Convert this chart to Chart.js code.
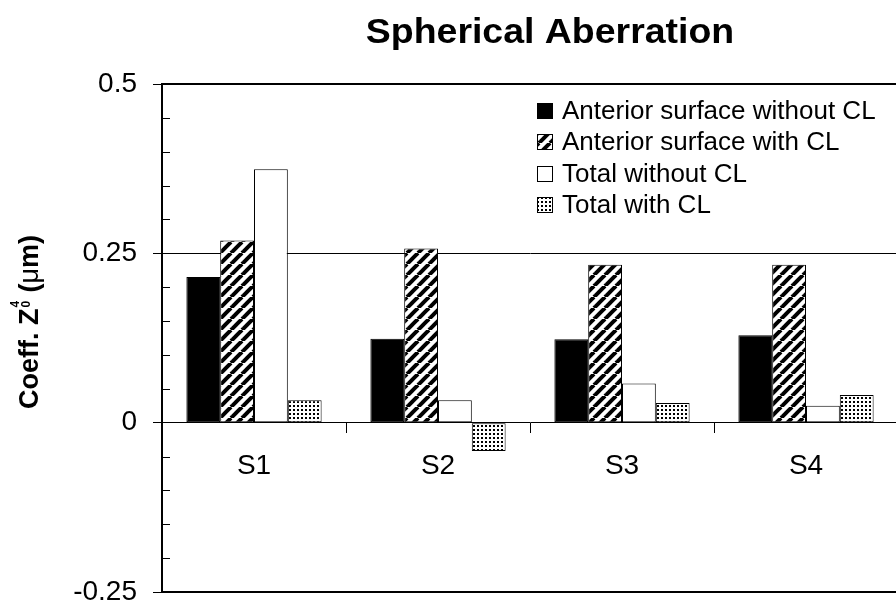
<!DOCTYPE html>
<html>
<head>
<meta charset="utf-8">
<script src="https://cdn.jsdelivr.net/npm/chart.js@4.4.0/dist/chart.umd.min.js"></script>
<style>
  html, body { margin: 0; padding: 0; background: #fff; overflow: hidden; }
  #wrap { width: 900px; height: 607px; }
</style>
</head>
<body>
<div id="wrap"><canvas id="chart" width="900" height="607"></canvas></div>
<script>
const categories = ["S1", "S2", "S3", "S4"];
const seriesLabels = ["Anterior surface without CL", "Anterior surface with CL", "Total without CL", "Total with CL"];
const anteriorWithout = [0.215, 0.124, 0.123, 0.129];
const anteriorWith = [0.269, 0.257, 0.233, 0.233];
const totalWithout = [0.374, 0.033, 0.058, 0.025];
const totalWith = [0.033, -0.042, 0.029, 0.041];
const yTickLabels = [0.5, 0.25, 0, -0.25];
const chartTitle = "Spherical Aberration";

const FONT = "'Liberation Sans', Arial, sans-serif";

const near = (a, b) => Math.abs(a - b) < 1e-6;
const isMajor = (v) => yTickLabels.some((t) => near(t, v));

function makeHatch() {
    const c = document.createElement("canvas");
    c.width = c.height = 11;
    const g = c.getContext("2d");
    g.fillStyle = "#fff";
    g.fillRect(0, 0, 11, 11);
    g.strokeStyle = "#000";
    g.lineWidth = 4;
    [-11, 0, 11].forEach((o) => {
        g.beginPath();
        g.moveTo(o, 11);
        g.lineTo(o + 11, 0);
        g.stroke();
    });
    return g.createPattern(c, "repeat");
}

function makeDots() {
    const c = document.createElement("canvas");
    c.width = c.height = 4;
    const g = c.getContext("2d");
    g.fillStyle = "#fff";
    g.fillRect(0, 0, 4, 4);
    g.fillStyle = "#000";
    g.fillRect(1, 1, 2, 2);
    return g.createPattern(c, "repeat");
}

const fills = ["#000", makeHatch(), "#fff", makeDots()];
const seriesValues = [anteriorWithout, anteriorWith, totalWithout, totalWith];

// plot frame, inner minor ticks, title, y title, legend
const decorations = {
    id: "decorations",
    afterDraw(chart) {
        const ctx = chart.ctx;
        const area = chart.chartArea;
        const yScale = chart.scales.y;
        ctx.save();

        ctx.strokeStyle = "#000";
        ctx.lineWidth = 2;
        ctx.strokeRect(area.left, area.top, area.right - area.left, area.bottom - area.top);

        ctx.lineWidth = 1;
        yScale.ticks.forEach((t) => {
            if (isMajor(t.value)) return;
            const y = Math.round(yScale.getPixelForValue(t.value)) + 0.5;
            ctx.beginPath();
            ctx.moveTo(area.left, y);
            ctx.lineTo(area.left + 8, y);
            ctx.stroke();
        });

        // title
        ctx.save();
        ctx.fillStyle = "#000";
        ctx.font = "bold 35px " + FONT;
        ctx.textAlign = "center";
        ctx.textBaseline = "alphabetic";
        ctx.translate(550, 43);
        ctx.scale(1.07, 1);
        ctx.fillText(chartTitle, 0, 0);
        ctx.restore();

        // y axis title: Coeff. Z (sub 0, sup 4) (µm)
        ctx.save();
        ctx.fillStyle = "#000";
        ctx.textAlign = "left";
        ctx.textBaseline = "alphabetic";
        ctx.translate(38, 322);
        ctx.rotate(-Math.PI / 2);
        const big = "bold 27px " + FONT;
        const small = "bold 12px " + FONT;
        const mu = "27px " + FONT;
        ctx.font = big;
        const w1 = ctx.measureText("Coeff. Z").width;
        const w3 = ctx.measureText(" (").width;
        const w5 = ctx.measureText("m)").width;
        ctx.font = small;
        const w2 = ctx.measureText("0").width;
        ctx.font = mu;
        const w4 = ctx.measureText("\u03bc").width;
        const total = w1 + w2 + 2 + w3 + w4 + w5;
        let x = -total / 2;
        ctx.font = big;
        ctx.fillText("Coeff. Z", x, 0);
        x += w1 + 1;
        ctx.font = small;
        ctx.fillText("0", x, -8);
        ctx.fillText("4", x, -19);
        x += w2 + 1;
        ctx.font = big;
        ctx.fillText(" (", x, 0);
        x += w3;
        ctx.font = mu;
        ctx.fillText("\u03bc", x, 0);
        x += w4;
        ctx.font = big;
        ctx.fillText("m)", x, 0);
        ctx.restore();

        // legend inside the plot
        ctx.font = "26px " + FONT;
        ctx.textBaseline = "middle";
        ctx.textAlign = "left";
        chart.data.datasets.forEach((ds, i) => {
            const y = Math.round(111 + i * 31.4);
            ctx.fillStyle = ds.backgroundColor;
            ctx.fillRect(537, y - 8, 16, 16);
            ctx.strokeStyle = "#000";
            ctx.lineWidth = 1;
            ctx.strokeRect(537.5, y - 7.5, 15, 15);
            ctx.fillStyle = "#000";
            ctx.fillText(ds.label, 562, y + 1);
        });

        ctx.restore();
    }
};

new Chart(document.getElementById("chart"), {
    type: "bar",
    data: {
        labels: categories,
        datasets: seriesValues.map((data, i) => ({
            label: seriesLabels[i],
            data: data,
            backgroundColor: fills[i],
            borderColor: "#000",
            borderWidth: 1,
            borderSkipped: false,
            categoryPercentage: 0.735,
            barPercentage: 1
        }))
    },
    options: {
        responsive: false,
        animation: false,
        devicePixelRatio: 1,
        layout: { padding: { left: 0, top: 84, right: 2, bottom: 15 } },
        plugins: {
            legend: { display: false },
            title: { display: false },
            tooltip: { enabled: false }
        },
        scales: {
            x: {
                position: { y: 0 },
                grid: {
                    offset: true,
                    drawOnChartArea: false,
                    tickLength: 10,
                    color: "#000"
                },
                border: { display: true, color: "#000", width: 1 },
                ticks: {
                    color: "#000",
                    font: { family: FONT, size: 28 },
                    padding: 17
                }
            },
            y: {
                min: -0.25,
                max: 0.5,
                afterFit: (scale) => {
                    scale.width = 162;
                    scale.paddingTop = 0;
                    scale.paddingBottom = 0;
                },
                grid: {
                    color: (c) => (c.tick && near(c.tick.value, 0.25) ? "#000" : "transparent"),
                    tickColor: (c) => (c.tick && isMajor(c.tick.value) ? "#000" : "transparent"),
                    tickLength: 9,
                    lineWidth: 1
                },
                border: { color: "#000", width: 2 },
                ticks: {
                    stepSize: 0.05,
                    autoSkip: false,
                    color: "#000",
                    font: { family: FONT, size: 28 },
                    padding: 16,
                    callback: (v) => (isMajor(v) ? String(Math.round(v * 100) / 100) : "")
                }
            }
        }
    },
    plugins: [decorations]
});
</script>
</body>
</html>
